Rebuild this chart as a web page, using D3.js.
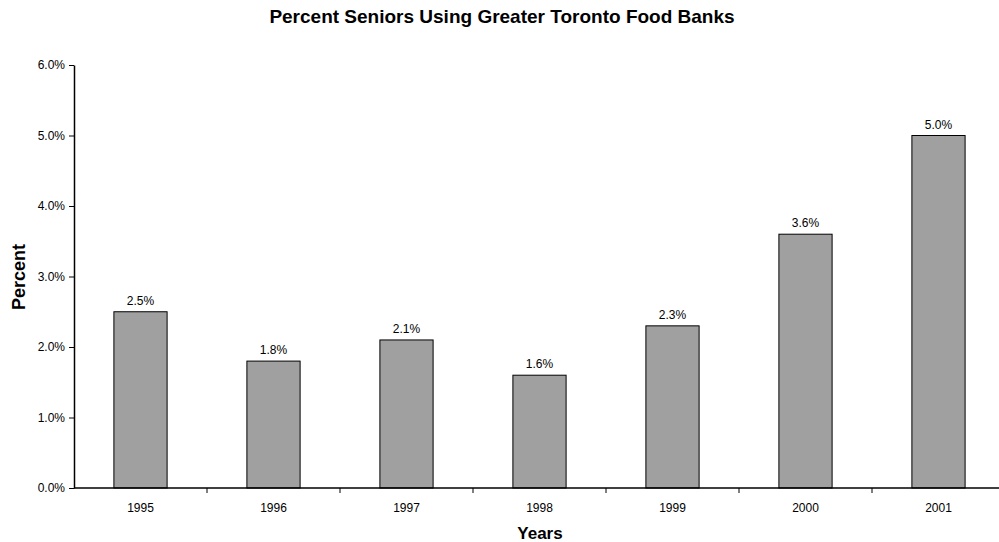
<!DOCTYPE html>
<html>
<head>
<meta charset="utf-8">
<script src="https://cdn.jsdelivr.net/npm/d3@7"></script>
<style>
  body { margin: 0; background: #fff; overflow: hidden; }
  text { font-family: "Liberation Sans", Arial, sans-serif; }
</style>
</head>
<body>
<div id="plot"></div>
<script>
// data
const years = ["1995", "1996", "1997", "1998", "1999", "2000", "2001"];
const percents = [2.5, 1.8, 2.1, 1.6, 2.3, 3.6, 5.0];
const yTicks = [0, 1, 2, 3, 4, 5, 6];

const w = 999, h = 542;
var margin = {top: 65, right: -6, bottom: 54, left: 74},
    innerWidth = w - margin.left - margin.right,
    innerHeight = h - margin.top - margin.bottom;

var svg = d3.select("div#plot")
  .append("svg")
    .attr("width", w)
    .attr("height", h)
    .style("display", "block")
  .append("g")
    .attr("transform", `translate(${margin.left}, ${margin.top})`);

// title
svg.append("text")
  .attr("x", 502 - margin.left)
  .attr("y", 23 - margin.top)
  .attr("text-anchor", "middle")
  .style("font-size", "19px")
  .style("font-weight", "bold")
  .text("Percent Seniors Using Greater Toronto Food Banks");

var xScale = d3.scaleBand()
  .domain(years)
  .range([0, innerWidth])
  .paddingInner(0.6)
  .paddingOuter(0.3);

var xOuter = d3.scaleBand().domain(years).range([0, innerWidth]);

var yScale = d3.scaleLinear()
  .domain([0, 6])
  .range([innerHeight, 0]);

// bars
svg.append("g")
  .selectAll("rect")
  .data(percents)
  .enter().append("rect")
    .attr("x", (d, i) => xScale(years[i]))
    .attr("y", d => yScale(d))
    .attr("width", xScale.bandwidth())
    .attr("height", d => innerHeight - yScale(d))
    .attr("fill", "#a0a0a0")
    .attr("stroke", "#000")
    .attr("stroke-width", 1);

// value labels
svg.append("g")
  .selectAll("text")
  .data(percents)
  .enter().append("text")
    .attr("x", (d, i) => xScale(years[i]) + xScale.bandwidth() / 2)
    .attr("y", d => yScale(d) - 7)
    .attr("text-anchor", "middle")
    .style("font-size", "12px")
    .text(d => d.toFixed(1) + "%");

// y axis
var yAxis = svg.append("g")
  .call(d3.axisLeft(yScale).tickValues(yTicks).tickSize(5).tickSizeOuter(0)
    .tickFormat(d => d.toFixed(1) + "%"));
yAxis.select(".domain").attr("stroke", "#000").attr("stroke-width", 1.5);
yAxis.selectAll("text").style("font-size", "12px").attr("fill", "#000")
  .attr("x", -9).attr("font-family", null);

// x axis: ticks between categories
var xg = svg.append("g").attr("transform", `translate(0, ${innerHeight})`);
xg.append("line")
  .attr("x1", 0).attr("x2", innerWidth)
  .attr("stroke", "#000").attr("stroke-width", 1.5);
xg.selectAll(".tick")
  .data(years.slice(1))
  .enter().append("line")
    .attr("x1", d => xOuter(d)).attr("x2", d => xOuter(d))
    .attr("y1", 0).attr("y2", 5)
    .attr("stroke", "#000");
xg.selectAll(".lbl")
  .data(years)
  .enter().append("text")
    .attr("x", d => xOuter(d) + xOuter.bandwidth() / 2)
    .attr("y", 24)
    .attr("text-anchor", "middle")
    .style("font-size", "12px")
    .text(d => d);

// axis titles
svg.append("text")
  .attr("x", 540 - margin.left)
  .attr("y", 539 - margin.top)
  .attr("text-anchor", "middle")
  .style("font-size", "17px")
  .style("font-weight", "bold")
  .text("Years");

svg.append("text")
  .attr("transform", "rotate(-90)")
  .attr("x", -(277 - margin.top))
  .attr("y", 25 - margin.left)
  .attr("text-anchor", "middle")
  .style("font-size", "18px")
  .style("font-weight", "bold")
  .text("Percent");
</script>
</body>
</html>
